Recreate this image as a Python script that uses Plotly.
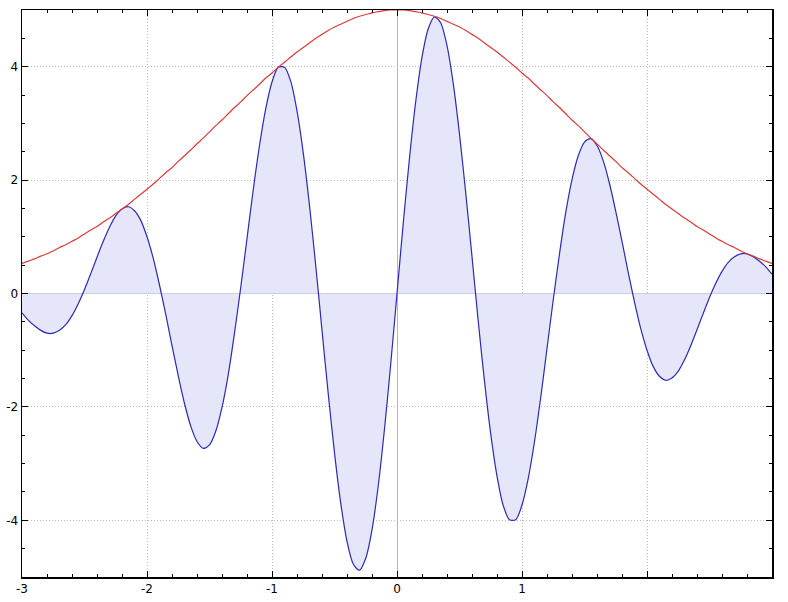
import plotly.graph_objects as go

# x positions (step 0.05 from -3 to 3)
x_vals = [round(-3 + 0.05 * i, 2) for i in range(121)]

# positive half values (x = 0.00 .. 3.00, step 0.05)
wave_pos = [0.00, 1.24, 2.39, 3.39, 4.17, 4.67, 4.88, 4.77, 4.37, 3.70, 2.81,
            1.77, 0.65, -0.49, -1.55, -2.48, -3.22, -3.74, -3.99, -3.99, -3.73,
            -3.26, -2.61, -1.83, -0.97, -0.11, 0.70, 1.43, 2.01, 2.43, 2.67,
            2.73, 2.61, 2.34, 1.94, 1.45, 0.92, 0.37, -0.15, -0.62, -1.00,
            -1.29, -1.46, -1.53, -1.49, -1.37, -1.17, -0.92, -0.64, -0.35, -0.07,
            0.18, 0.39, 0.55, 0.65, 0.70, 0.70, 0.65, 0.57, 0.47, 0.34]
env_pos = [5.00, 5.00, 4.99, 4.97, 4.95, 4.92, 4.89, 4.85, 4.80, 4.75, 4.70,
           4.64, 4.57, 4.50, 4.42, 4.34, 4.26, 4.17, 4.08, 3.99, 3.89,
           3.80, 3.69, 3.59, 3.49, 3.38, 3.28, 3.17, 3.06, 2.96, 2.85,
           2.74, 2.64, 2.53, 2.43, 2.33, 2.22, 2.13, 2.03, 1.93, 1.84,
           1.75, 1.66, 1.57, 1.49, 1.41, 1.33, 1.26, 1.18, 1.12, 1.05,
           0.98, 0.92, 0.86, 0.81, 0.75, 0.70, 0.66, 0.61, 0.57, 0.53]

# the wave is odd, the envelope even
wave = [-v for v in wave_pos[:0:-1]] + wave_pos
envelope = env_pos[:0:-1] + env_pos

x_ticks = [-3, -2, -1, 0, 1, 2, 3]
x_tick_labels = ["-3", "-2", "-1", "0", "1", "", ""]
y_ticks = [-4, -2, 0, 2, 4]
y_tick_labels = ["-4", "-2", "0", "2", "4"]

fig = go.Figure()
fig.add_trace(go.Scatter(
    x=x_vals, y=wave, mode="lines", fill="tozeroy",
    fillcolor="rgb(230,230,250)",
    line=dict(color="#2a2ab8", width=1.2, shape="spline", smoothing=0.8),
    showlegend=False, hoverinfo="skip"))
fig.add_trace(go.Scatter(
    x=x_vals, y=envelope, mode="lines",
    line=dict(color="#dc3a3a", width=1.2, shape="spline", smoothing=0.8),
    showlegend=False, hoverinfo="skip"))

axis_common = dict(
    showline=True, linecolor="black", linewidth=1.5, mirror="allticks",
    ticks="inside", ticklen=6, tickwidth=1, tickcolor="black",
    showgrid=True, gridcolor="#bdbdbd", griddash="1px,2px", gridwidth=1,
    zeroline=True, zerolinecolor="#b4b4c8", zerolinewidth=1,
    tickfont=dict(family="DejaVu Sans", size=12, color="black"),
    automargin=False,
)

fig.update_xaxes(range=[-3, 3], tickmode="array", tickvals=x_ticks,
                 ticktext=x_tick_labels,
                 minor=dict(dtick=0.2, ticks="inside", ticklen=3,
                            tickcolor="black", showgrid=False),
                 **axis_common)
fig.update_yaxes(range=[-5, 5], tickmode="array", tickvals=y_ticks,
                 ticktext=y_tick_labels,
                 minor=dict(dtick=0.5, ticks="inside", ticklen=3,
                            tickcolor="black", showgrid=False),
                 **axis_common)

fig.update_layout(
    width=788, height=602,
    margin=dict(l=22, r=16, t=10, b=25),
    paper_bgcolor="white", plot_bgcolor="white",
)

fig.write_html(
    "out.html",
    config={"displayModeBar": False, "staticPlot": True},
    post_script="document.body.style.margin='0';document.body.style.overflow='hidden';",
)
